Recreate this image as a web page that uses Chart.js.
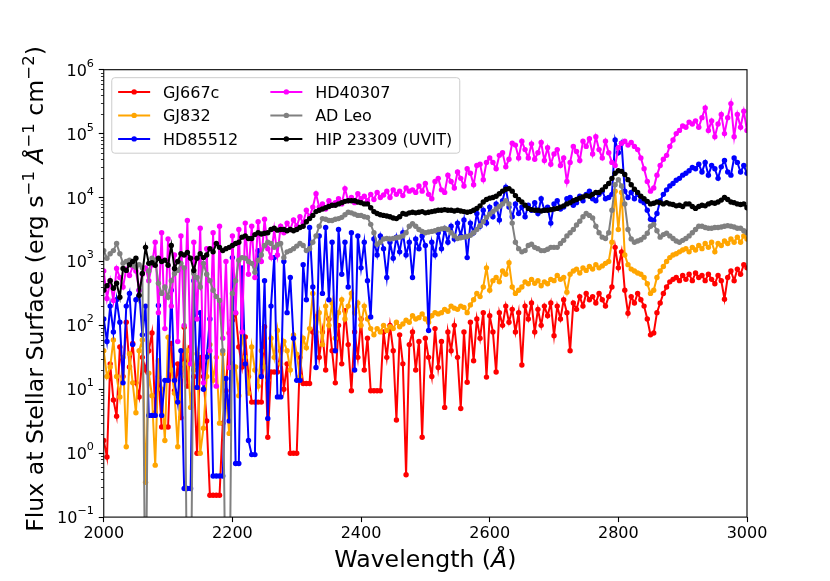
<!DOCTYPE html>
<html>
<head>
<meta charset="utf-8">
<script src="https://cdn.jsdelivr.net/npm/chart.js@4.4.1/dist/chart.umd.min.js"></script>
<style>
  html, body { margin: 0; padding: 0; background: #fff; }
  canvas { display: block; }
</style>
</head>
<body>
<canvas id="spec" width="830" height="581"></canvas>
<script>
// wavelength grid (Angstrom)
const wave = [
  2000,2005,2010,2015,2020,2025,2030,2035,2040,2045,
  2050,2055,2060,2065,2070,2075,2080,2085,2090,2095,
  2100,2105,2110,2115,2120,2125,2130,2135,2140,2145,
  2150,2155,2160,2165,2170,2175,2180,2185,2190,2195,
  2200,2205,2210,2215,2220,2225,2230,2235,2240,2245,
  2250,2255,2260,2265,2270,2275,2280,2285,2290,2295,
  2300,2305,2310,2315,2320,2325,2330,2335,2340,2345,
  2350,2355,2360,2365,2370,2375,2380,2385,2390,2395,
  2400,2405,2410,2415,2420,2425,2430,2435,2440,2445,
  2450,2455,2460,2465,2470,2475,2480,2485,2490,2495,
  2500,2505,2510,2515,2520,2525,2530,2535,2540,2545,
  2550,2555,2560,2565,2570,2575,2580,2585,2590,2595,
  2600,2605,2610,2615,2620,2625,2630,2635,2640,2645,
  2650,2655,2660,2665,2670,2675,2680,2685,2690,2695,
  2700,2705,2710,2715,2720,2725,2730,2735,2740,2745,
  2750,2755,2760,2765,2770,2775,2780,2785,2790,2795,
  2800,2805,2810,2815,2820,2825,2830,2835,2840,2845,
  2850,2855,2860,2865,2870,2875,2880,2885,2890,2895,
  2900,2905,2910,2915,2920,2925,2930,2935,2940,2945,
  2950,2955,2960,2965,2970,2975,2980,2985,2990,2995,
  3000
];

// flux at stellar surface (erg s^-1 A^-1 cm^-2)
const gj667c = [
  1.58,0.87,25,6.8,3.8,46,15.8,112,22.4,52,
  12.6,7.6,31.6,20,40,76,4.3,15.8,2.57,2.57,
  2.57,52,9.5,25,3.6,93,11.2,46,15.8,1.0,
  31.6,15.8,3.2,0.22,0.22,0.22,0.22,2.95,9.5,76,
  120,155,46,22.4,66,15.8,6.3,6.3,6.3,6.3,
  95,1.78,18.6,18.6,18.6,40,10,25,1.0,1.0,
  1.0,31.6,12.3,12.3,12.3,79,135,31.6,79,20,
  126,40,12.6,100,25,170,50,9.5,79,31.6,
  126,20,63,9.5,9.5,9.5,9.5,79,31.6,100,
  40,3.3,71,25,0.46,50,79,20,56,1.78,
  63,31.6,15.8,89,21.9,56,5.2,79,40,100,
  31.6,5.0,79,12.9,112,28,126,63,158,15.5,
  141,79,18.6,158,100,200,112,178,79,158,
  24,200,126,224,79,178,100,200,141,224,
  69,200,126,251,158,40,224,178,282,200,
  316,251,282,224,316,251,200,282,398,1660,
  794,1413,355,155,282,224,316,251,200,126,
  71,76,158,224,316,398,479,525,562,501,
  603,525,631,501,661,562,603,501,631,525,
  447,603,501,257,562,708,501,759,631,891,
  794
];
const gj832 = [
  40,15.8,22.4,59,15.8,7.6,31.6,1.26,36,12.6,
  4.3,40,59,0.35,17.8,7.9,0.65,28,10,1.58,
  65,20,8.7,1.26,15.8,25,40,5.2,20,36,
  1.0,2.45,15.8,50,13.8,31.6,2.95,36,7.9,2.04,
  25,22.4,7.9,76,31.6,8.7,46,20,11.2,40,
  22.4,13.8,63,31.6,83,25,56,40,20,71,
  35.5,15.8,63,44.7,89,316,79,158,50,200,
  100,224,63,158,251,126,200,316,158,224,
  100,200,126,89,71,89,79,100,83,95,
  89,112,95,105,120,112,141,126,132,151,
  126,112,141,158,151,158,178,166,200,186,
  178,200,191,158,209,251,316,282,398,794,
  355,501,562,479,708,631,955,398,316,355,
  398,479,447,525,457,501,417,479,447,525,
  501,603,525,562,331,631,708,759,661,794,
  724,832,759,891,794,851,933,1000,1995,12590,
  3162,12020,1259,891,759,708,661,631,562,447,
  316,355,562,708,832,1000,1148,1259,1318,1413,
  1514,1585,1413,1660,1514,1778,1585,1905,1660,1995,
  1413,1905,1778,2089,1905,2239,1995,2399,1995,2512,
  2239
];
const hd85512 = [
  126,56,200,79,251,112,12.6,200,316,50,
  251,355,71,200,3.9,3.9,3.9,204,3.9,13.8,
  13.8,355,13.8,6.3,40,0.28,0.28,0.28,501,10.7,
  158,10,32,126,0.44,0.44,0.44,0.44,14.8,3.2,
  1148,0.69,0.69,794,25,1.58,0.95,0.95,1479,15.8,
  501,3.5,200,1148,7.6,7.6,1000,158,562,63,
  13.8,13.8,891,251,3388,398,21.9,2512,316,3388,
  251,1995,40,3162,631,1995,398,2818,20,2512,
  794,1995,501,135,2239,1259,2512,1585,562,1995,
  1122,2399,1413,2818,1259,1995,562,2239,1585,2512,
  1778,83,1995,1259,2818,1585,3162,1995,3548,2239,
  3981,2512,4467,1148,3981,2818,5623,3548,6310,3981,
  7079,5012,7943,4467,8913,14450,7079,5012,7943,5623,
  7079,5012,7586,6310,8318,5623,9550,6310,7079,3981,
  7943,8913,6607,7079,9550,10000,7586,8318,10470,8913,
  11220,12590,9550,8913,11220,12590,9550,10000,11220,79430,
  50120,70790,12590,10000,12020,9550,11220,8913,8318,6310,
  4571,4365,5623,8913,11220,13180,15140,16600,18620,19950,
  22390,23990,26300,29510,28180,33110,25120,35480,22390,31620,
  28180,19950,30200,38020,25120,22390,41690,35480,25120,31620,
  23990
];
const hd40307 = [
  708,263,501,245,776,562,398,759,603,832,
  708,355,631,794,501,891,1995,158,2818,89,
  2239,200,1259,56,2512,100,4365,25,1995,126,
  3311,12.6,1585,40,2818,11.2,3548,63,1000,22,
  2512,158,3162,79,3981,631,3548,562,4169,1000,
  4571,1585,1148,3162,1259,3548,2818,3981,3162,4467,
  3548,5012,3981,6310,5012,7079,11480,7079,7943,6607,
  8913,7586,8318,9550,7943,13800,8913,10000,8318,11480,
  9550,10470,8913,11220,9333,12020,10000,10960,12590,10000,
  13180,11220,12590,10720,14130,12590,13180,12020,15140,12590,
  16600,11220,9550,17780,19950,13180,12020,22390,17780,14130,
  25120,19950,15140,28180,23990,15850,31620,33110,19050,35480,
  41690,35480,28180,45710,50120,30200,39810,70790,66070,41690,
  75860,56230,41690,69180,39810,50120,72440,38020,60260,33110,
  47860,56230,31620,41690,17780,35480,63100,52480,38020,75860,
  63100,83180,47860,89130,56230,41690,75860,50120,35480,31620,
  60260,70790,75860,66070,72440,63100,56230,41690,28180,17780,
  12590,14130,22390,31620,39810,45710,63100,79430,100000,112200,
  131800,125900,151400,141300,158500,125900,177800,251200,112200,158500,
  89130,141300,199500,100000,177800,295100,89130,199500,125900,223900,
  112200
];
const adLeo = [
  1479,1122,1318,1479,1905,1318,933,1000,1047,871,
  813,891,794,0.001,708,1122,1047,457,316,398,
  275,501,646,724,933,794,0.001,0.001,646,562,
  398,933,631,501,355,282,245,40,0.001,0.001,
  316,501,1047,1148,1122,1000,933,676,1047,1259,
  1778,1995,1905,1660,1820,1905,1148,1413,1479,1585,
  1738,1905,1778,1479,1585,1995,2512,3548,4677,4571,
  4365,4365,4571,4677,4898,5370,5888,5754,5495,5248,
  5248,5012,4898,3802,2818,1862,1995,2239,2291,2239,
  2291,2344,2399,2512,2818,3548,3890,3548,3162,2951,
  2818,2884,2951,3020,3162,3236,3311,3162,2818,2512,
  2291,2344,2399,2455,2570,2818,3162,3631,4169,4898,
  5495,6026,6607,7244,7943,8913,7943,3981,1995,1585,
  1413,1479,1778,1862,1660,1585,1479,1479,1549,1660,
  1660,1660,1905,2138,2512,2818,3162,3715,4266,5012,
  5623,5248,4786,3548,2818,2399,2291,2818,6310,15850,
  19050,15140,7943,3162,2239,1995,2089,2188,2399,2754,
  3548,3802,3020,2399,2630,2754,2512,2291,2089,1995,
  2138,2291,2512,2818,3162,3548,3548,3388,3311,3311,
  3388,3388,3467,3548,3631,3548,3467,3311,3311,3020,
  2818
];
const hip23309 = [
  355,417,501,380,457,275,776,724,891,1000,
  1122,295,646,1660,933,955,871,1122,1000,1047,
  871,1778,776,1000,1318,1259,1380,1122,724,1122,
  1318,1148,1259,1585,1413,1905,1660,1479,1585,1660,
  1778,1905,1995,2399,2512,2291,2291,2630,2818,2692,
  2754,2818,3162,3311,3090,3162,3162,3020,3162,3020,
  3162,3388,3548,4169,4677,5248,6026,6310,6607,6918,
  7244,7586,7586,7943,8318,8710,8913,8913,8913,8511,
  8318,7943,7943,6918,6026,5623,5370,5248,5129,5012,
  4786,4677,5012,5623,5495,5754,5888,5754,5888,6026,
  5754,5888,6026,6166,6310,6310,6457,6310,6310,6166,
  6310,6166,6026,5888,6026,6310,6761,7413,8511,9333,
  9772,10000,10470,11480,12590,13490,13800,12590,10720,9333,
  8511,7586,6761,6457,6310,6310,6166,6310,6310,6457,
  6607,6761,7079,7413,7943,8318,8913,9333,9772,10230,
  10720,10470,11220,12020,12020,13180,14790,16600,19950,23990,
  26300,25700,22910,19050,15850,13490,12020,10470,9550,8710,
  7943,8128,8511,8318,7943,8318,7943,7762,7413,7586,
  7244,7943,7943,7244,6761,7244,7586,7413,7943,8318,
  8128,8511,9120,10000,9333,8511,8318,7943,7762,7943,
  6918
];

const names = ["GJ667c", "GJ832", "HD85512", "HD40307", "AD Leo", "HIP 23309 (UVIT)"];
const colors = ["#ff0000", "#ffa500", "#0000ff", "#ff00ff", "#808080", "#000000"];
const xTicks = [2000, 2200, 2400, 2600, 2800, 3000];
const yExps = [-1, 0, 1, 2, 3, 4, 5, 6];

const FONT = "DejaVu Sans";
const SUP = { "-": "\u2212", "0": "0", "1": "1", "2": "2", "3": "3", "4": "4", "5": "5", "6": "6" };

function series(i, vals) {
  return {
    label: names[i],
    data: wave.map((w, k) => ({ x: w, y: vals[k] })),
    borderColor: colors[i],
    backgroundColor: colors[i],
    borderWidth: 2,
    pointRadius: 2.7,
    pointHoverRadius: 2.7,
    pointBorderWidth: 0,
    pointBackgroundColor: colors[i],
    tension: 0,
    order: 5 - i  // later series drawn on top, like matplotlib
  };
}

// draws a list of text runs along a baseline, centred on cx
function richText(ctx, runs, cx, base) {
  let w = 0;
  runs.forEach(r => { ctx.font = r.f; r.w = ctx.measureText(r.t).width; w += r.w; });
  let x = cx - w / 2;
  ctx.textAlign = "left";
  ctx.textBaseline = "alphabetic";
  runs.forEach(r => { ctx.font = r.f; ctx.fillText(r.t, x, base + (r.dy || 0)); x += r.w; });
}

const deco = {
  id: "deco",
  afterDraw(chart) {
    const { ctx, chartArea: a, scales: { y } } = chart;
    ctx.save();
    ctx.fillStyle = "#000";
    ctx.strokeStyle = "#000";

    // frame
    ctx.lineWidth = 1.1;
    ctx.strokeRect(a.left, a.top, a.right - a.left, a.bottom - a.top);

    // minor log ticks
    ctx.lineWidth = 0.8;
    ctx.beginPath();
    for (let e = -1; e < 6; e++) {
      for (let m = 2; m < 10; m++) {
        const py = Math.round(y.getPixelForValue(m * Math.pow(10, e))) + 0.5;
        ctx.moveTo(a.left, py);
        ctx.lineTo(a.left - 2.8, py);
      }
    }
    ctx.stroke();

    // y tick labels 10^n
    yExps.forEach(e => {
      const py = y.getPixelForValue(Math.pow(10, e));
      const sup = String(e).split("").map(c => SUP[c]).join("");
      const right = a.left - 9.8;
      ctx.textBaseline = "alphabetic";
      ctx.textAlign = "right";
      ctx.font = "11.2px '" + FONT + "'";
      const sw = ctx.measureText(sup).width;
      ctx.fillText(sup, right, py - 3);
      ctx.font = "16px '" + FONT + "'";
      ctx.fillText("10", right - sw, py + 6);
    });

    // x axis title
    const big = "23.6px '" + FONT + "'";
    const bigIt = "italic 23.6px '" + FONT + "'";
    const sm = "16.5px '" + FONT + "'";
    richText(ctx, [
      { t: "Wavelength (", f: big },
      { t: "\u00c5", f: bigIt },
      { t: ")", f: big }
    ], (a.left + a.right) / 2, 567);

    // y axis title
    ctx.save();
    ctx.translate(43, 289);
    ctx.rotate(-Math.PI / 2);
    richText(ctx, [
      { t: "Flux at Stellar Surface (erg s", f: big },
      { t: "\u22121", f: sm, dy: -9.5 },
      { t: " ", f: big },
      { t: "\u00c5", f: bigIt },
      { t: "\u22121", f: sm, dy: -9.5 },
      { t: " cm", f: big },
      { t: "\u22122", f: sm, dy: -9.5 },
      { t: ")", f: big }
    ], 0, 0);
    ctx.restore();

    // legend, two columns
    const bx = a.left + 8, by = a.top + 8, bw = 348, bh = 75.5;
    ctx.beginPath();
    ctx.roundRect(bx, by, bw, bh, 3);
    ctx.fillStyle = "rgba(255,255,255,0.8)";
    ctx.fill();
    ctx.strokeStyle = "#cccccc";
    ctx.lineWidth = 1;
    ctx.stroke();
    const rowY = [by + 14.2, by + 37.7, by + 61.2];
    const handleX = [bx + 6.4, bx + 158.6];
    ctx.font = "16px '" + FONT + "'";
    ctx.textAlign = "left";
    ctx.textBaseline = "alphabetic";
    names.forEach((n, i) => {
      const col = Math.floor(i / 3), row = i % 3;
      const hx = handleX[col], hy = rowY[row];
      ctx.strokeStyle = colors[i];
      ctx.lineWidth = 2;
      ctx.beginPath();
      ctx.moveTo(hx, hy);
      ctx.lineTo(hx + 32, hy);
      ctx.stroke();
      ctx.fillStyle = colors[i];
      ctx.beginPath();
      ctx.arc(hx + 16, hy, 2.7, 0, Math.PI * 2);
      ctx.fill();
      ctx.fillStyle = "#000";
      ctx.fillText(n, hx + 44.8, hy + 5.8);
    });

    ctx.restore();
  }
};

new Chart(document.getElementById("spec"), {
  type: "line",
  data: {
    datasets: [
      series(0, gj667c),
      series(1, gj832),
      series(2, hd85512),
      series(3, hd40307),
      series(4, adLeo),
      series(5, hip23309)
    ]
  },
  options: {
    responsive: false,
    animation: false,
    devicePixelRatio: 1,
    layout: { padding: { left: 0, right: 83, top: 69.7, bottom: 0 } },
    plugins: { legend: { display: false }, tooltip: { enabled: false } },
    scales: {
      x: {
        type: "linear",
        min: 2000,
        max: 3000,
        afterBuildTicks: s => { s.ticks = xTicks.map(v => ({ value: v })); },
        afterFit: s => { s.height = 63.9; },
        ticks: {
          color: "#000",
          padding: 2,
          maxRotation: 0,
          font: { family: FONT, size: 16 },
          callback: v => String(v)
        },
        grid: { drawOnChartArea: false, drawTicks: true, tickLength: 5, tickColor: "#000", tickWidth: 1.1 },
        border: { display: false }
      },
      y: {
        type: "logarithmic",
        min: 0.1,
        max: 1e6,
        afterBuildTicks: s => { s.ticks = yExps.map(e => ({ value: Math.pow(10, e) })); },
        afterFit: s => { s.width = 103.75; },
        ticks: { display: false },
        grid: { drawOnChartArea: false, drawTicks: true, tickLength: 5, tickColor: "#000", tickWidth: 1.1 },
        border: { display: false }
      }
    }
  },
  plugins: [deco]
});
</script>
</body>
</html>
